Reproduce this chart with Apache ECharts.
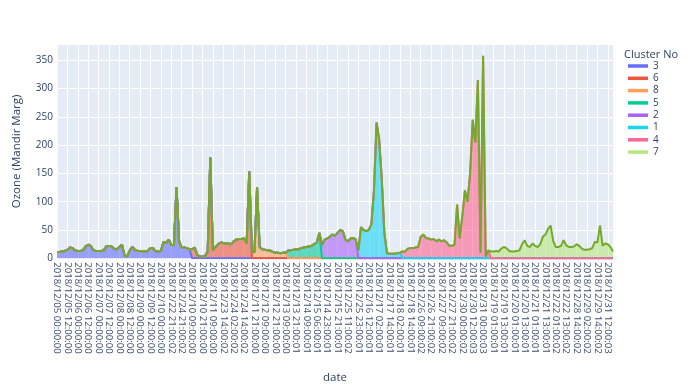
<!DOCTYPE html>
<html>
<head>
<meta charset="utf-8">
<script src="https://cdn.jsdelivr.net/npm/echarts@6/dist/echarts.min.js"></script>
<style>
html,body{margin:0;padding:0;background:#fff;}
#chart{width:688px;height:390px;}
</style>
</head>
<body>
<div id="chart"></div>
<script>
// Tick labels on the x axis (one every 12 hourly categories)
const tickLabels = [
  '2018/12/05 00:00:00','2018/12/05 12:00:00','2018/12/06 00:00:00','2018/12/06 12:00:00',
  '2018/12/07 00:00:00','2018/12/07 12:00:00','2018/12/08 00:00:00','2018/12/08 12:00:00',
  '2018/12/09 00:00:00','2018/12/09 12:00:00','2018/12/10 00:00:00','2018/12/22 21:00:02',
  '2018/12/24 21:00:02','2018/12/10 09:00:00','2018/12/10 21:00:00','2018/12/11 09:00:00',
  '2018/12/23 14:00:02','2018/12/24 02:00:02','2018/12/24 14:00:02','2018/12/11 21:00:00',
  '2018/12/12 09:00:00','2018/12/12 21:00:00','2018/12/13 09:00:00','2018/12/13 21:00:01',
  '2018/12/14 09:00:01','2018/12/15 06:00:01','2018/12/14 23:00:01','2018/12/15 21:00:01',
  '2018/12/25 11:00:02','2018/12/25 23:00:01','2018/12/16 12:00:01','2018/12/17 02:00:01',
  '2018/12/17 14:00:01','2018/12/18 02:00:01','2018/12/18 14:00:01','2018/12/26 09:00:02',
  '2018/12/26 21:00:02','2018/12/27 09:00:02','2018/12/27 21:00:02','2018/12/30 00:00:02',
  '2018/12/30 12:00:03','2018/12/31 00:00:03','2018/12/19 01:00:01','2018/12/19 13:00:01',
  '2018/12/20 01:00:01','2018/12/20 13:00:01','2018/12/21 01:00:01','2018/12/21 13:00:01',
  '2018/12/22 01:00:02','2018/12/22 13:00:02','2018/12/28 14:00:02','2018/12/29 02:00:02',
  '2018/12/29 14:00:02','2018/12/31 12:00:03'
];
const clusterNames = ['3','6','8','5','2','1','4','7'];
const clusterColors = ['#636EFA','#EF553B','#FFA15A','#00CC96','#AB63FA','#19D3F3','#FF6692','#B6E880'];

// Ozone readings (one sample per 3 categories), per cluster, in axis order
const ozoneC3 = [11,11,12,13,15,19,18,14,13,13,14,21,24,22,14,13,13,13,14,21,22,21,17,16,20,24,5,3,14,20,15,13,13,12,12,13,18,18,12,12,13,29,27,33,24,23,126,30,19,19,18,16];
const ozoneC6 = [16,19,6,3,3,4,12,178,14,20,25,28,27,26,26,25,30,33,34,34,35,26,154];
const ozoneC8 = [15,10,126,20,16,15,14,14,11,10,10,9,10,10];
const ozoneC5 = [14,14,15,16,16,18,19,20,21,22,25,28,45];
const ozoneC2 = [24,33,35,38,42,40,45,50,48,33,30,35,36,33];
const ozoneC1 = [14,55,50,48,50,60,120,240,210,140,45,9,8,8,8,9,10];
const ozoneC4 = [12,12,17,18,18,19,20,38,42,36,35,33,34,30,33,30,32,28,22,22,24,95,35,74,120,100,150,245,205,315,10,358,3,14];
const ozoneC7 = [12,12,13,12,17,20,18,13,12,12,13,14,25,32,22,20,26,22,20,25,38,42,52,58,30,20,20,22,32,23,20,20,21,25,22,17,15,15,16,18,29,28,58,22,26,25,20,12];

const STEP = 3;          // categories between samples
const TICK_EVERY = 12;   // categories between tick labels
const clusterValues = [ozoneC3, ozoneC6, ozoneC8, ozoneC5, ozoneC2, ozoneC1, ozoneC4, ozoneC7];
const total = clusterValues.reduce((s, a) => s + a.length, 0);
const sampleCats = [];
for (let i = 0; i < total; i++) sampleCats.push(String(i * STEP));
const showTick = (index) => (index * STEP) % TICK_EVERY === 0;

const series = [];
let offset = 0;
clusterValues.forEach((vals, k) => {
  const data = [];
  for (let i = 0; i < total; i++) {
    const inside = i >= offset && i < offset + vals.length;
    data.push(inside ? vals[i - offset] : 0);
  }
  offset += vals.length;
  series.push({
    name: clusterNames[k],
    type: 'line',
    stack: 'all',
    data: data,
    showSymbol: false,
    symbol: 'none',
    itemStyle: { color: clusterColors[k] },
    lineStyle: { width: 2, color: k === clusterValues.length - 1 ? '#74a92b' : clusterColors[k] },
    areaStyle: { color: clusterColors[k], opacity: 0.6 },
    emphasis: { disabled: true },
    animation: false
  });
});

const font = 'Open Sans';
const txt = '#2a3f5f';
const chart = echarts.init(document.getElementById('chart'), null, { renderer: 'canvas' });
chart.setOption({
  animation: false,
  backgroundColor: '#ffffff',
  title: {
    text: 'Cluster No', left: 624, top: 49, padding: 0,
    textStyle: { fontSize: 11, fontWeight: 'normal', color: txt, fontFamily: font }
  },
  legend: {
    orient: 'vertical', left: 628, top: 61, padding: 0,
    itemWidth: 20, itemHeight: 12, itemGap: 2.3,
    icon: 'path://M0,0H20V3.5H0Z',
    textStyle: { fontSize: 10, color: txt, fontFamily: font },
    data: clusterNames
  },
  grid: {
    left: 57, right: 75, top: 44.5, bottom: 131.7,
    show: true, backgroundColor: '#E5ECF6', borderWidth: 0
  },
  xAxis: {
    type: 'category', boundaryGap: false, data: sampleCats,
    name: 'date', nameLocation: 'middle', nameGap: 113,
    nameTextStyle: { fontSize: 11.5, color: txt, fontFamily: font },
    axisLine: { show: false }, axisTick: { show: false },
    splitLine: { show: true, interval: showTick, lineStyle: { color: '#ffffff', width: 1 } },
    axisLabel: {
      rotate: -90, fontSize: 9.6, color: '#3d5170', fontFamily: font, margin: 4,
      padding: [9, 0, 0, 0],
      interval: showTick, hideOverlap: false,
      formatter: (v) => tickLabels[Number(v) / TICK_EVERY] || ''
    }
  },
  yAxis: {
    type: 'value', min: 0, max: 378, interval: 50,
    name: 'Ozone (Mandir Marg)', nameLocation: 'middle', nameGap: 34,
    nameTextStyle: { fontSize: 11.5, color: txt, fontFamily: font },
    axisLine: { show: false }, axisTick: { show: false },
    splitLine: { show: true, lineStyle: { color: '#ffffff', width: 1 } },
    axisLabel: { fontSize: 10, color: txt, fontFamily: font, margin: 4, showMaxLabel: false }
  },
  series: series
});
</script>
</body>
</html>
